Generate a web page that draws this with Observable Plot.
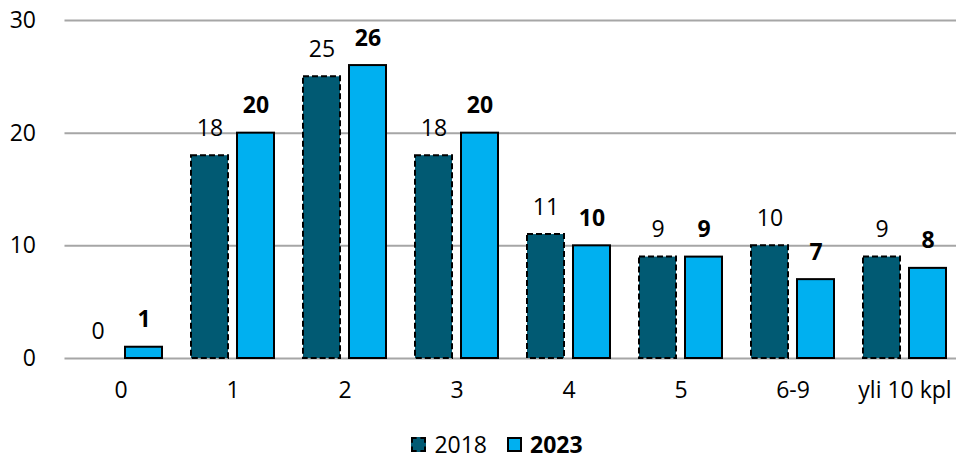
<!DOCTYPE html>
<html>
<head>
<meta charset="utf-8">
<script src="https://cdn.jsdelivr.net/npm/d3@7"></script>
<script src="https://cdn.jsdelivr.net/npm/@observablehq/plot@0.6"></script>
<style>
  html, body { margin: 0; padding: 0; background: #fff; overflow: hidden; }
  #chart { width: 956px; font-family: "Open Sans", Lato, sans-serif; }
  .legend { display: flex; justify-content: center; align-items: flex-start; height: 32px; font-size: 23px; color: #000; padding-left: 38px; margin-top: 13px; }
  .item { display: flex; align-items: center; margin: 0 10px; }
  .sw { width: 11px; height: 11px; margin-right: 8px; border: 2px solid #000; }
</style>
</head>
<body>
<div id="chart"></div>
<script>
const categories = ["0", "1", "2", "3", "4", "5", "6-9", "yli 10 kpl"];
const series = ["2018", "2023"];
const values2018 = [0, 18, 25, 18, 11, 9, 10, 9];
const values2023 = [1, 20, 26, 20, 10, 9, 7, 8];
const yTicks = [0, 10, 20, 30];
const colors = ["#015a73", "#00b0f0"];

const data2018 = categories.map((c, i) => ({cat: c, year: series[0], value: values2018[i]}));
const data2023 = categories.map((c, i) => ({cat: c, year: series[1], value: values2023[i]}));

const W = 956, ML = 62, MR = -7;
const padIn = 0.24, padOut = 0.12;
// outer gap of the first facet, derived from the band scale's padding
const step = (W - ML - MR) / (categories.length - padIn + 2 * padOut);
const outer = padOut * step;

const chart = Plot.plot({
  width: W,
  height: 415,
  marginLeft: ML,
  marginRight: MR,
  marginTop: 20,
  marginBottom: 57,
  style: {fontFamily: "'Open Sans', Lato, sans-serif", fontSize: "23px", color: "#000", background: "#fff", overflow: "visible"},
  fx: {domain: categories, paddingInner: padIn, paddingOuter: padOut, label: null, tickSize: 0, tickPadding: 23, axis: "bottom"},
  x: {domain: series, paddingInner: 0.19, paddingOuter: 0, axis: null},
  y: {domain: [0, 30], label: null},
  color: {domain: series, range: colors},
  marks: [
    Plot.axisY(yTicks, {tickSize: -(W - ML), dx: -outer, stroke: "#a6a6a6", strokeWidth: 2, tickFormat: () => "", label: null}),
    Plot.axisY(yTicks, {tickSize: 0, tickPadding: 29 + outer, label: null}),
    Plot.barY(data2018, {fx: "cat", x: "year", y: "value", fill: "year", stroke: "#000", strokeWidth: 2, strokeDasharray: "6,3"}),
    Plot.barY(data2023, {fx: "cat", x: "year", y: "value", fill: "year", stroke: "#000", strokeWidth: 2}),
    Plot.text(data2018, {fx: "cat", x: "year", y: "value", text: d => String(d.value), dy: -20, lineAnchor: "bottom", fill: "#000"}),
    Plot.text(data2023, {fx: "cat", x: "year", y: "value", text: d => String(d.value), dy: -20, lineAnchor: "bottom", fill: "#000", fontWeight: "bold"})
  ]
});
document.getElementById("chart").appendChild(chart);

const legend = document.createElement("div");
legend.className = "legend";
series.forEach((s, i) => {
  const item = document.createElement("div");
  item.className = "item";
  const sw = document.createElement("span");
  sw.className = "sw";
  sw.style.background = colors[i];
  if (i === 0) sw.style.borderStyle = "dashed";
  const t = document.createElement("span");
  t.textContent = s;
  if (i === 1) t.style.fontWeight = "bold";
  item.appendChild(sw);
  item.appendChild(t);
  legend.appendChild(item);
});
document.getElementById("chart").appendChild(legend);
</script>
</body>
</html>
